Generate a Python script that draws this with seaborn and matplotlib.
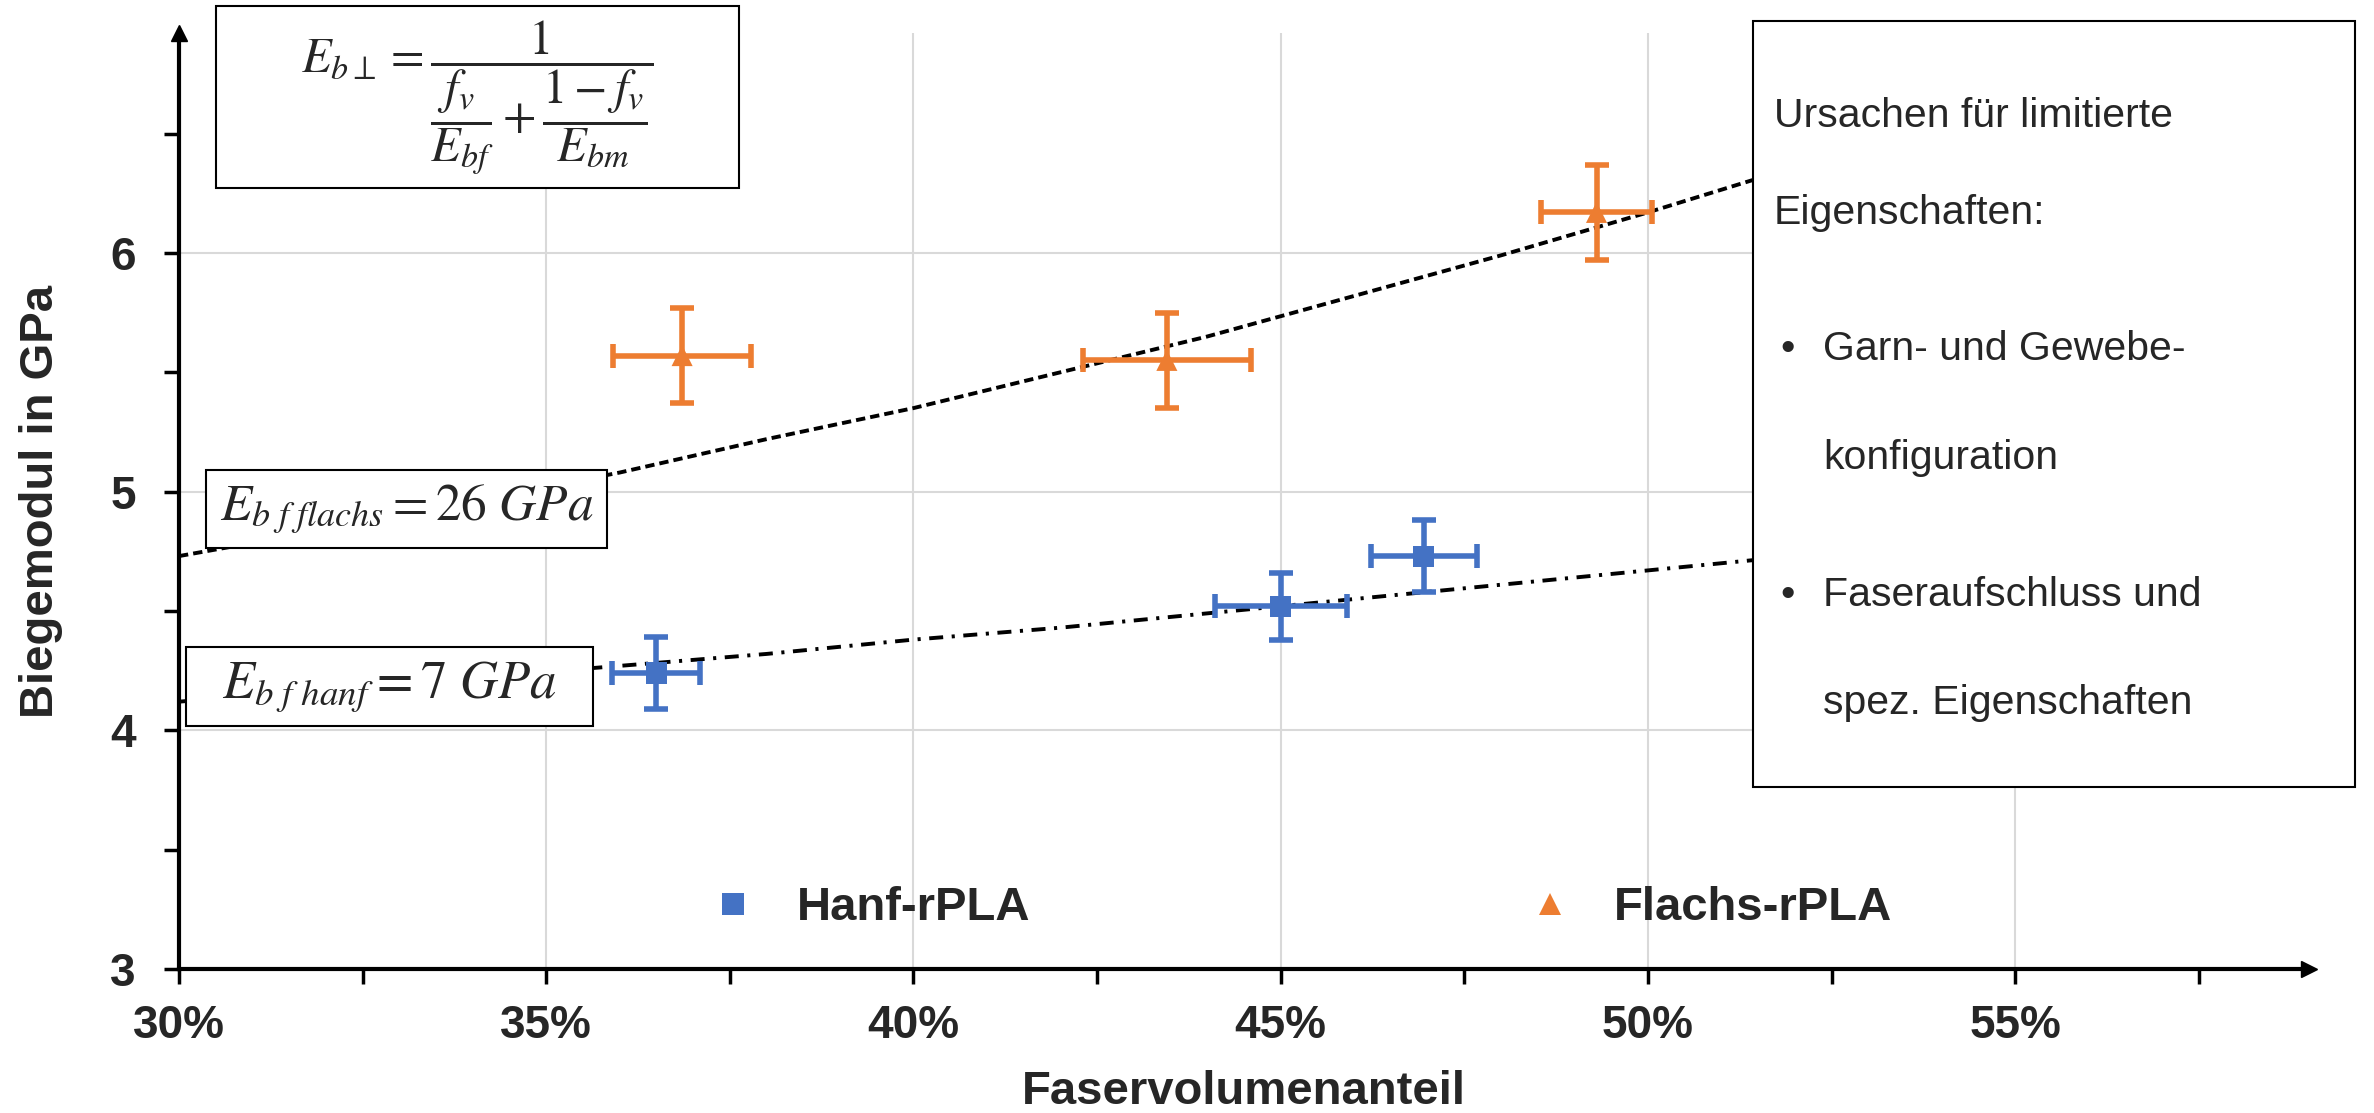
import numpy as np
import pandas as pd
import matplotlib
matplotlib.use("Agg")
import matplotlib.pyplot as plt
from matplotlib.patches import Rectangle
from matplotlib.ticker import MultipleLocator, FuncFormatter
import seaborn as sns

sns.set_style("whitegrid")
plt.rcParams["font.family"] = ["Liberation Sans", "DejaVu Sans"]
plt.rcParams["mathtext.fontset"] = "stix"

# Messwerte (Faservolumenanteil in %, Biegemodul in GPa)
hanf_fvg = [36.5, 45.0, 46.95]
hanf_fvg_err = [0.6, 0.9, 0.72]
hanf_mod = [4.24, 4.52, 4.73]
hanf_mod_err = [0.15, 0.14, 0.15]

flachs_fvg = [36.85, 43.45, 49.3]
flachs_fvg_err = [0.94, 1.14, 0.76]
flachs_mod = [5.57, 5.55, 6.17]
flachs_mod_err = [0.2, 0.2, 0.2]

# Modellkurven
modell_fvg = [30, 32, 34, 36, 38, 40, 42, 44, 46, 48, 50, 52, 54, 56, 58]
modell_flachs = [4.73, 4.84, 4.96, 5.08, 5.22, 5.35, 5.50, 5.65, 5.82, 5.99,
                 6.17, 6.36, 6.57, 6.79, 7.03]
modell_hanf = [4.12, 4.17, 4.22, 4.27, 4.32, 4.38, 4.43, 4.49, 4.55, 4.61,
               4.67, 4.73, 4.80, 4.86, 4.93]

blau = "#4472C4"
orange = "#ED7D31"

df = pd.DataFrame({
    "fvg": hanf_fvg + flachs_fvg,
    "modul": hanf_mod + flachs_mod,
    "Material": ["Hanf-rPLA"] * 3 + ["Flachs-rPLA"] * 3,
})

fig = plt.figure(figsize=(23.74, 11.13), dpi=100)
ax = fig.add_axes([0.0754, 0.1294, 0.8972, 0.8406])

# Modellkurven
ax.plot(modell_fvg, modell_flachs, color="black", lw=2.8, dashes=(2.4, 1.3), zorder=2)
ax.plot(modell_fvg, modell_hanf, color="black", lw=2.8, dashes=(3.6, 2.2, 0.8, 2.2), zorder=2)

# Fehlerbalken
ax.errorbar(hanf_fvg, hanf_mod, xerr=hanf_fvg_err, yerr=hanf_mod_err, fmt="none",
            ecolor=blau, elinewidth=4, capsize=8.5, capthick=4, zorder=3)
ax.errorbar(flachs_fvg, flachs_mod, xerr=flachs_fvg_err, yerr=flachs_mod_err, fmt="none",
            ecolor=orange, elinewidth=4, capsize=8.5, capthick=4, zorder=3)

sns.scatterplot(data=df, x="fvg", y="modul", hue="Material", style="Material",
                palette={"Hanf-rPLA": blau, "Flachs-rPLA": orange},
                markers={"Hanf-rPLA": "s", "Flachs-rPLA": "^"},
                s=230, linewidth=0, ax=ax, zorder=4)

ax.set_xlim(30, 59)
ax.set_ylim(3, 6.92)
ax.xaxis.set_major_locator(MultipleLocator(5))
ax.xaxis.set_minor_locator(MultipleLocator(2.5))
ax.yaxis.set_major_locator(MultipleLocator(1))
ax.yaxis.set_minor_locator(MultipleLocator(0.5))
ax.xaxis.set_major_formatter(FuncFormatter(lambda v, p: f"{v:.0f}%"))
ax.yaxis.set_major_formatter(FuncFormatter(lambda v, p: f"{v:.0f}"))

ax.grid(True, which="major", color="#d9d9d9", lw=1.5)
ax.grid(False, which="minor")
for s in ["top", "right"]:
    ax.spines[s].set_visible(False)
for s in ["left", "bottom"]:
    ax.spines[s].set_color("black")
    ax.spines[s].set_linewidth(3)
    ax.spines[s].set_zorder(5)

ax.tick_params(which="both", direction="out", length=11, width=2.5, color="black",
               bottom=True, left=True)
ax.tick_params(axis="x", which="major", pad=14, labelsize=33)
ax.tick_params(axis="y", which="major", pad=20, labelsize=33)
for lab in ax.get_xticklabels() + ax.get_yticklabels():
    lab.set_fontweight("bold")

ax.plot(1, 0, ">", color="black", markersize=12, transform=ax.transAxes, clip_on=False, zorder=6)
ax.plot(0, 1, "^", color="black", markersize=12, transform=ax.transAxes, clip_on=False, zorder=6)

ax.set_xlabel("Faservolumenanteil", fontsize=34, fontweight="bold", labelpad=16)
ax.set_ylabel("Biegemodul in GPa", fontsize=34, fontweight="bold", labelpad=34)

ax.legend(loc="center", bbox_to_anchor=(0.521, 0.065), ncol=2, frameon=False,
          prop={"size": 34, "weight": "bold"}, columnspacing=10.0, handletextpad=0.35,
          markerscale=1.0, title=None)

# Formelkasten
fig.add_artist(Rectangle((0.0910, 0.8311), 0.2203, 0.1635, transform=fig.transFigure,
                         facecolor="white", edgecolor="black", lw=1.5, zorder=5))
fig.text(0.2011, 0.9128,
         r"$E_{b\perp}=\dfrac{1}{\dfrac{f_v}{E_{bf}}+\dfrac{1-f_v}{E_{bm}}}$",
         ha="center", va="center", fontsize=35, zorder=6)

# Beschriftung der Modellkurven
fig.add_artist(Rectangle((0.0868, 0.5076), 0.1689, 0.0701, transform=fig.transFigure,
                         facecolor="white", edgecolor="black", lw=1.5, zorder=5))
fig.text(0.1712, 0.5427, r"$E_{b\ f\ flachs}=26\ GPa$",
         ha="center", va="center", fontsize=37, zorder=6)
fig.add_artist(Rectangle((0.0783, 0.3477), 0.1714, 0.0710, transform=fig.transFigure,
                         facecolor="white", edgecolor="black", lw=1.5, zorder=5))
fig.text(0.1641, 0.3832, r"$E_{b\ f\ hanf}=7\ GPa$",
         ha="center", va="center", fontsize=38, zorder=6)

# Textkasten rechts
fig.add_artist(Rectangle((0.7384, 0.2929), 0.2536, 0.6882, transform=fig.transFigure,
                         facecolor="white", edgecolor="black", lw=1.5, zorder=5))
zeilen = [
    (0.7473, 0.8859, "Ursachen für limitierte"),
    (0.7473, 0.7987, "Eigenschaften:"),
    (0.7679, 0.6765, "Garn- und Gewebe-"),
    (0.7679, 0.5786, "konfiguration"),
    (0.7679, 0.4555, "Faseraufschluss und"),
    (0.7679, 0.3585, "spez. Eigenschaften"),
]
for x, y, t in zeilen:
    fig.text(x, y, t, ha="left", va="baseline", fontsize=29.5, zorder=6)
for y in [0.6765, 0.4555]:
    fig.text(0.7498, y, "•", ha="left", va="baseline", fontsize=29.5, zorder=6)

plt.savefig("out.png", dpi=100)
